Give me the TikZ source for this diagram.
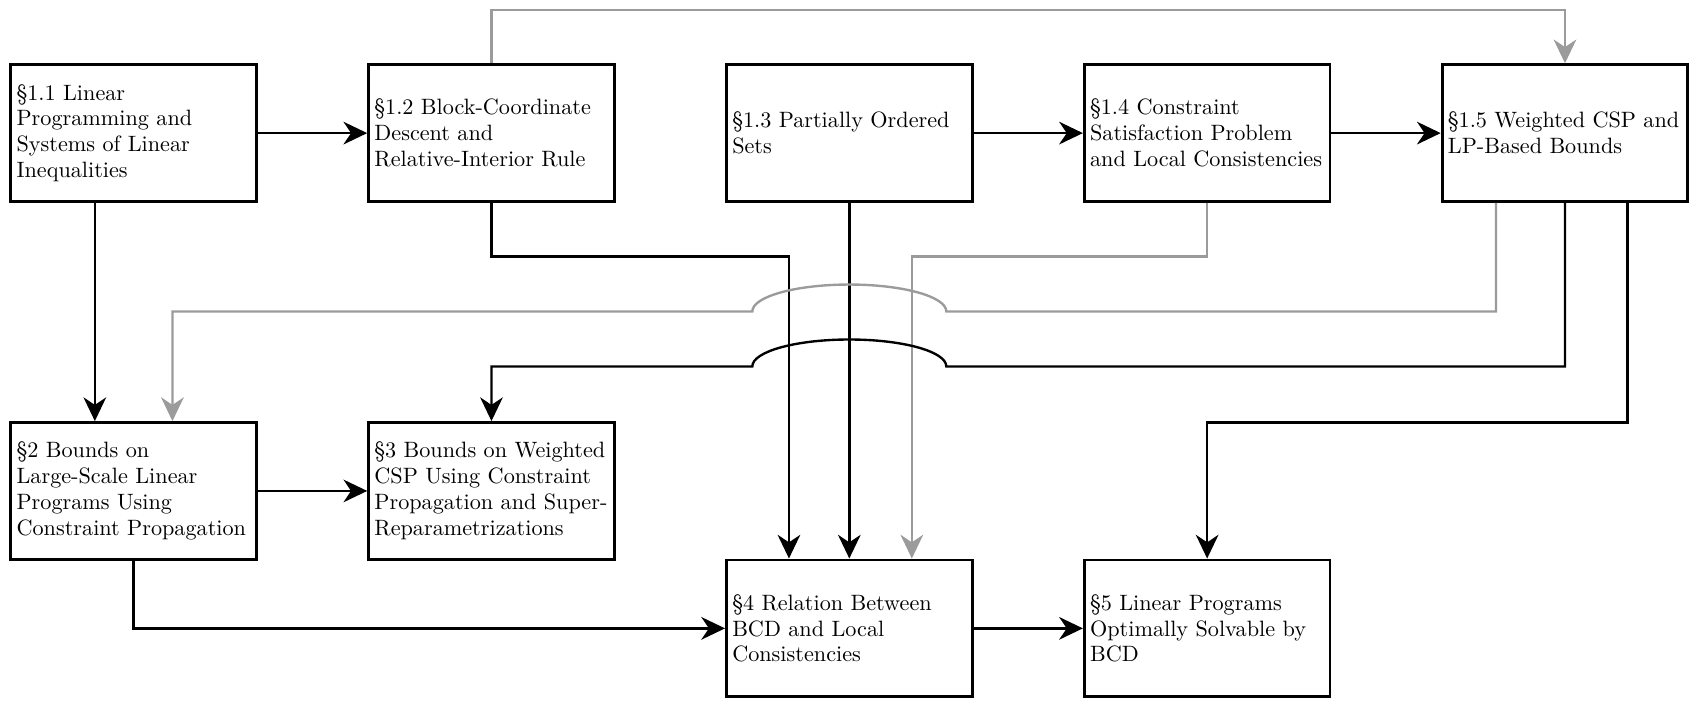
\documentclass[tikz,border=0pt]{standalone}
\usetikzlibrary{arrows.meta}
\definecolor{lgray}{RGB}{155,155,155}

\begin{document}
\begin{tikzpicture}[x=0.5pt,y=-0.5pt,
  box/.style={draw,line width=1.3pt,text width=108.6pt,align=left,inner xsep=2.7pt,minimum height=63.5pt,
    font=\fontsize{10.3}{12}\selectfont},
  arr/.style={line width=1.1pt,-{Stealth[length=11pt,width=10.5pt,inset=3.5pt]}},
  garr/.style={arr,lgray}]
\useasboundingbox (0,0) rectangle (1568,652);

%Levels of the routed lines
\coordinate (lvlTop) at (0,9);
\coordinate (lvlA) at (0,238);
\coordinate (lvlB) at (0,289);
\coordinate (lvlC) at (0,340);
\coordinate (lvlD) at (0,392);
\coordinate (hopB) at (878,289);
\coordinate (hopC) at (878,340);

% Text Node
\node[box] (s11) at (124,123.5) {\S1.1 Linear\\Programming and\\Systems of Linear\\Inequalities};
% Text Node
\node[box] (s12) at (456,123.5) {\S1.2 Block-Coordinate\\Descent and\\Relative-Interior Rule};
% Text Node
\node[box] (s13) at (788,123.5) {\S1.3 Partially Ordered\\Sets};
% Text Node
\node[box] (s14) at (1120,123.5) {\S1.4 Constraint\\Satisfaction Problem\\and Local Consistencies};
% Text Node
\node[box] (s15) at (1452,123.5) {\S1.5 Weighted CSP and\\LP-Based Bounds};
% Text Node
\node[box] (s2) at (124,455.5) {\S2 Bounds on\\Large-Scale Linear\\Programs Using\\Constraint Propagation};
% Text Node
\node[box] (s3) at (456,455.5) {\S3 Bounds on Weighted\\CSP Using Constraint\\Propagation and Super-\\Reparametrizations};
% Text Node
\node[box] (s4) at (788,583) {\S4 Relation Between\\BCD and Local\\Consistencies};
% Text Node
\node[box] (s5) at (1120,583) {\S5 Linear Programs\\Optimally Solvable by\\BCD};

%Straight Lines
\draw[arr] (s11) -- (s12);
\draw[arr] (s13) -- (s14);
\draw[arr] (s14) -- (s15);
\draw[arr] (s2) -- (s3);
\draw[arr] (s4) -- (s5);
\draw[arr] ([xshift=-18pt]s11.south) -- ([xshift=-18pt]s2.north);
\draw[arr] (s13) -- (s4);

%Routed Lines
\draw[garr] (s12.north) -- (s12.north |- lvlTop) -| (s15.north);
\draw[arr] (s12.south) -- (s12.south |- lvlA) -| ([xshift=-28pt]s4.north);
\draw[garr] (s14.south) -- (s14.south |- lvlA) -| ([xshift=29pt]s4.north);
\draw[arr] (s2.south) |- (s4.west);
\draw[arr] ([xshift=29pt]s15.south) -- ([xshift=29pt]s15.south |- lvlD) -| (s5.north);

%Lines with hops
\draw[garr] ([xshift=-32pt]s15.south) |- (hopB) arc[start angle=0,end angle=180,x radius=45pt,y radius=12.5pt] -| ([xshift=18pt]s2.north);
\draw[arr] (s15.south) |- (hopC) arc[start angle=0,end angle=180,x radius=45pt,y radius=12.5pt] -| (s3.north);
\end{tikzpicture}
\end{document}
